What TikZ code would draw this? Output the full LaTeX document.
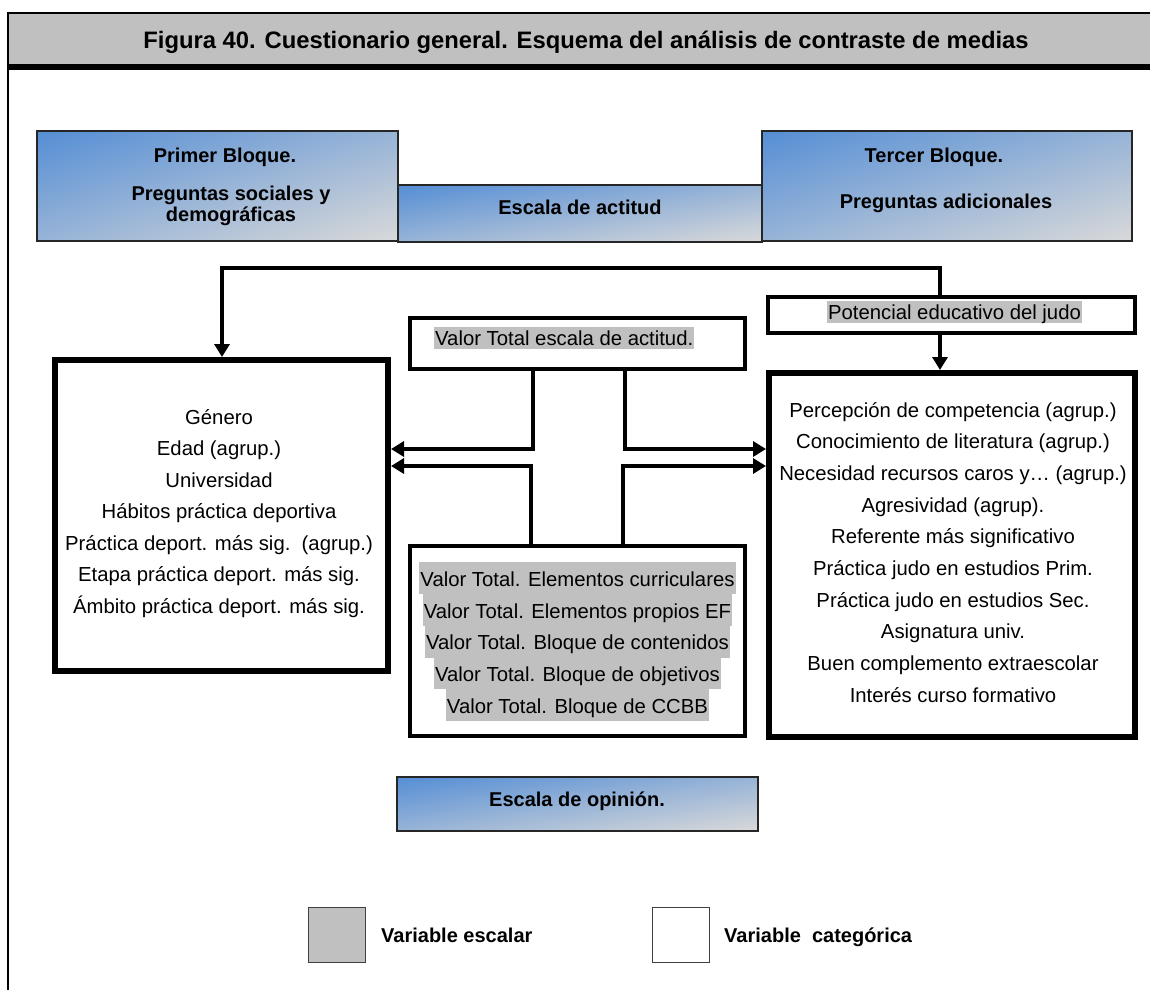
\documentclass[tikz,border=0pt]{standalone}
\usepackage{fontspec}
\setmainfont{Liberation Sans}
\usetikzlibrary{arrows.meta}
\definecolor{hdrgray}{RGB}{192,192,192}
\definecolor{hlgray}{RGB}{192,192,192}
% diagonal fill: blue in the upper left corner, light grey in the lower right one
% (a filled path is mapped onto the square from 25bp to 75bp)
\pgfdeclarefunctionalshading{diagblue}{\pgfpointorigin}{\pgfpoint{100bp}{100bp}}{}{
  sub 50 add 100 div
  dup 0 lt {pop 0} if
  dup 1 gt {pop 1} if
  dup 0.518 mul 0.333 add exch
  dup 0.294 mul 0.557 add exch
  0.016 mul 0.835 add
}
\begin{document}
\begin{tikzpicture}[x=1pt,y=-1pt,
  gradbox/.style={draw=black!85, line width=2pt, shading=diagblue, shade, inner sep=0},
  boldtxt/.style={font=\fontsize{20}{24}\selectfont\bfseries, inner sep=0},
  bodytxt/.style={font=\fontsize{20.3}{24}\selectfont, inner sep=0, anchor=base},
  thickbox/.style={draw, line width=6pt, fill=white, inner sep=0},
  midbox/.style={draw, line width=4pt, fill=white, inner sep=0},
  hl/.style={fill=hlgray, inner xsep=1pt, inner ysep=0, font=\fontsize{20.3}{24}\selectfont},
  arr/.style={line width=4pt, -{Triangle[length=13pt,width=15pt]}},
  legbox/.style={draw=black!75, line width=1.5pt, minimum width=57pt, minimum height=55pt, inner sep=0},
]
\useasboundingbox (0,0) rectangle (1150,989);

% header band and frame
\fill[hdrgray] (8,13) rectangle (1150,64);
\fill[black] (8,64) rectangle (1150,70);
\draw[line width=2pt] (1150,13) -- (8,13) -- (8,990);
\node[font=\fontsize{23.8}{28}\selectfont\bfseries, anchor=base, inner sep=0] (title) at (586,48)
  {Figura 40. Cuestionario general. Esquema del análisis de contraste de medias};

% questionnaire blocks
\node[gradbox, minimum width=361pt, minimum height=110pt] (primer) at (217.5,186) {};
\node[gradbox, minimum width=370pt, minimum height=110pt] (tercer) at (947,186) {};
\node[gradbox, minimum width=364pt, minimum height=57pt] (actitud) at (580,213.5) {};
\node[boldtxt, anchor=base] (pb1) at (225,162) {Primer Bloque.};
\node[boldtxt, anchor=base] (pb2) at (231,200) {Preguntas sociales y};
\node[boldtxt, anchor=base] (pb3) at (231,221) {demográficas};
\node[boldtxt, anchor=base] (ea) at (580,214) {Escala de actitud};
\node[boldtxt, anchor=base] (tb1) at (934,162) {Tercer Bloque.};
\node[boldtxt, anchor=base] (tb2) at (946,208) {Preguntas adicionales};

% variable boxes
\node[thickbox, minimum width=333pt, minimum height=311pt] (lbox) at (221.5,515.5) {};
\node[thickbox, minimum width=366pt, minimum height=364pt] (rbox) at (952,555) {};
\node[midbox, minimum width=335pt, minimum height=51pt] (vt) at (577.5,343.5) {};
\node[midbox, minimum width=335pt, minimum height=190pt] (vb) at (577.5,641) {};
\node[midbox, minimum width=367pt, minimum height=36pt] (pot) at (951.5,315) {};

% scale variables (highlighted)
\node[hl, anchor=north west, text height=18pt, text depth=4pt] (vtt) at (434,327) {Valor Total escala de actitud.};
\node[hl, anchor=north, text height=18pt, text depth=4pt] (pott) at (954.5,301) {Potencial educativo del judo};
\foreach \t [count=\i from 0] in {Valor Total. Elementos curriculares,
    Valor Total. Elementos propios EF,
    Valor Total. Bloque de contenidos,
    Valor Total. Bloque de objetivos,
    Valor Total. Bloque de CCBB}
  \node[hl, anchor=north, text height=24pt, text depth=7.8pt] (vb\i) at (577.5,562+31.8*\i) {\t};

% categorical variables
\foreach \t [count=\i from 0] in {Género, Edad (agrup.), Universidad, Hábitos práctica deportiva,
    Práctica deport. más sig.\ \ (agrup.), Etapa práctica deport. más sig., Ámbito práctica deport. más sig.}
  \node[bodytxt] (l\i) at (219,424+31.5*\i) {\t};
\foreach \t [count=\i from 0] in {Percepción de competencia (agrup.), Conocimiento de literatura (agrup.),
    Necesidad recursos caros y… (agrup.), Agresividad (agrup)., Referente más significativo,
    Práctica judo en estudios Prim., Práctica judo en estudios Sec., Asignatura univ.,
    Buen complemento extraescolar, Interés curso formativo}
  \node[bodytxt] (r\i) at (953,417+31.7*\i) {\t};

% connectors
\coordinate (topL) at (222,268);
\coordinate (topR) at (940,268);
\coordinate (h1) at (0,449);
\coordinate (h2) at (0,466);
\draw[arr, line join=miter] (topR |- pot.north) -- (topR) -- (topL) -- (topL |- lbox.north);
\draw[arr] (topR |- pot.south) -- (topR |- rbox.north);
\draw[arr, line join=miter] ([xshift=-44.5pt]vt.south) |- (lbox.east |- h1);
\draw[arr, line join=miter] ([xshift=47.5pt]vt.south) |- (rbox.west |- h1);
\draw[arr, line join=miter] ([xshift=-46.5pt]vb.north) |- (lbox.east |- h2);
\draw[arr, line join=miter] ([xshift=45.5pt]vb.north) |- (rbox.west |- h2);

% opinion scale
\node[gradbox, minimum width=361pt, minimum height=54pt] (opinion) at (577.5,804) {};
\node[boldtxt, anchor=base] (eo) at (577,806) {Escala de opinión.};

% legend
\node[legbox, fill=hlgray] (legS) at (337,935) {};
\node[legbox, fill=white] (legC) at (681,935) {};
\node[boldtxt, anchor=base west] (legSt) at (381,942) {Variable escalar};
\node[boldtxt, anchor=base west] (legCt) at (724,942) {Variable\ \ categórica};
\end{tikzpicture}
\end{document}
